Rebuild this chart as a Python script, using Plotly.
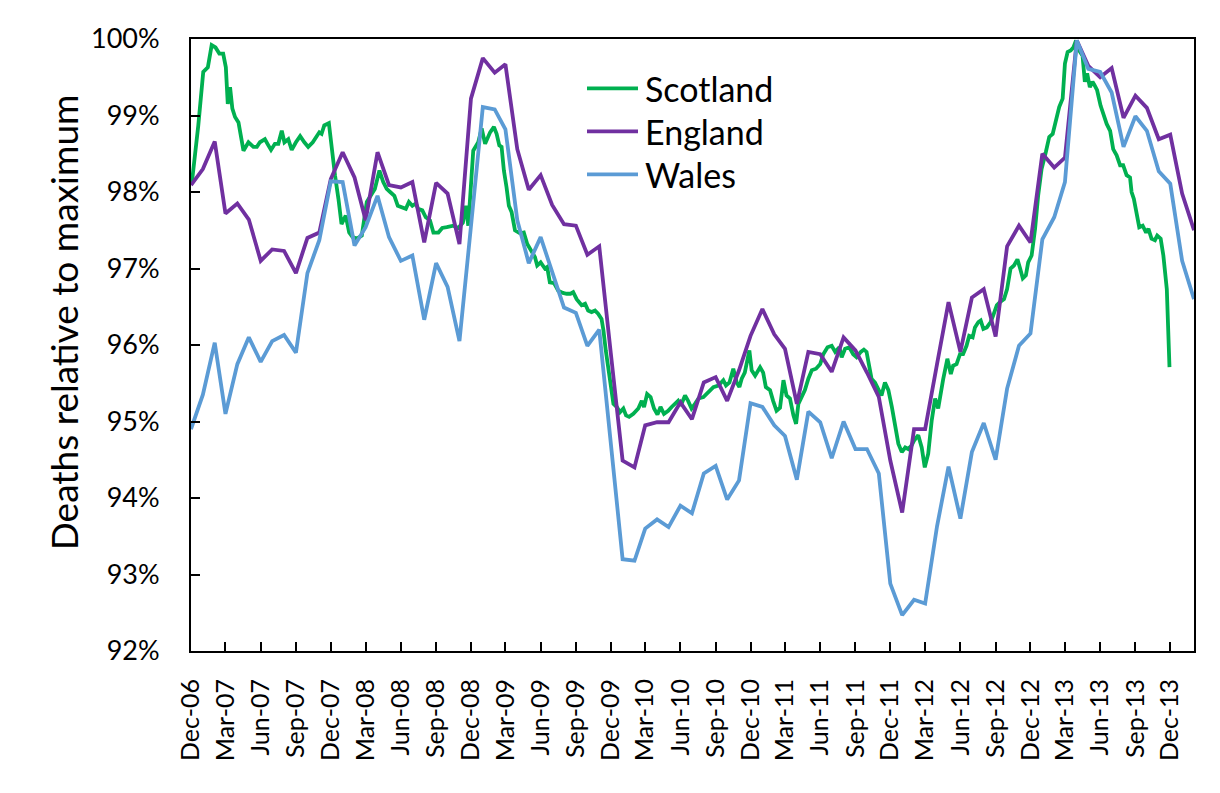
import pandas as pd
import plotly.graph_objects as go

# ---------------- data ----------------
START = "2006-12-01"

england = [98.09, 98.30, 98.66, 97.72, 97.85, 97.64, 97.10, 97.25, 97.23, 96.94,
           97.40, 97.47, 98.17, 98.52, 98.19, 97.63, 98.52, 98.09, 98.06, 98.13,
           97.34, 98.12, 97.98, 97.32, 99.22, 99.75, 99.56, 99.67, 98.56, 98.03,
           98.22, 97.83, 97.58, 97.56, 97.18, 97.29, 95.90, 94.49, 94.40, 94.95,
           94.99, 94.99, 95.25, 95.03, 95.51, 95.58, 95.27, 95.67, 96.12, 96.47,
           96.14, 95.95, 95.23, 95.91, 95.88, 95.65, 96.10, 95.93, 95.64, 95.32,
           94.49, 93.81, 94.90, 94.90, 95.75, 96.56, 95.91, 96.62, 96.73, 96.11,
           97.29, 97.56, 97.34, 98.50, 98.32, 98.45, 99.98, 99.65, 99.50, 99.62,
           98.97, 99.26, 99.10, 98.69, 98.75, 97.98, 97.50]

wales = [94.90, 95.35, 96.03, 95.10, 95.75, 96.10, 95.78, 96.05, 96.13, 95.90,
         96.94, 97.37, 98.14, 98.13, 97.30, 97.54, 97.95, 97.41, 97.10, 97.17,
         96.33, 97.07, 96.76, 96.05, 97.55, 99.11, 99.08, 98.82, 97.63, 97.07,
         97.41, 96.95, 96.49, 96.42, 95.99, 96.20, 94.70, 93.20, 93.18, 93.60,
         93.72, 93.62, 93.90, 93.80, 94.32, 94.42, 93.98, 94.23, 95.24, 95.19,
         94.95, 94.81, 94.24, 95.13, 94.99, 94.52, 95.00, 94.64, 94.64, 94.32,
         92.88, 92.47, 92.67, 92.62, 93.63, 94.41, 93.73, 94.60, 94.98, 94.50,
         95.43, 95.99, 96.15, 97.38, 97.67, 98.13, 99.98, 99.61, 99.57, 99.30,
         98.59, 98.99, 98.80, 98.27, 98.11, 97.10, 96.60]

# Scotland: weekly-ish series, days since 1 Dec 2006
scot_day = [2, 19, 32, 44, 54, 64, 74, 84, 91, 96, 102, 108, 115, 124, 137, 150,
            163, 172, 180, 193, 202, 209, 219, 228, 237, 244, 254, 263, 274, 285,
            296, 306, 318, 328, 335, 341, 348, 360, 367, 376, 385, 393, 404, 413,
            422, 433, 446, 459, 480, 492, 502, 511, 520, 531, 540, 550, 561, 569,
            578, 587, 593, 604, 613, 624, 633, 646, 656, 668, 685, 698, 710, 718,
            724, 737, 750, 759, 768, 781, 791, 798, 805, 811, 817, 824, 830, 837,
            846, 859, 869, 878, 887, 898, 904, 913, 924, 930, 937, 948, 959, 971,
            981, 991, 998, 1007, 1020, 1029, 1037, 1046, 1055, 1063, 1072, 1077,
            1083, 1103, 1112, 1120, 1129, 1136, 1144, 1155, 1168, 1177, 1183, 1191,
            1200, 1209, 1218, 1226, 1235, 1246, 1255, 1264, 1272, 1279, 1290, 1298,
            1307, 1316, 1325, 1338, 1351, 1364, 1377, 1390, 1397, 1406, 1416, 1425,
            1432, 1438, 1446, 1458, 1464, 1473, 1486, 1494, 1501, 1512, 1520, 1529,
            1538, 1547, 1555, 1564, 1573, 1580, 1586, 1595, 1603, 1612, 1621, 1632,
            1643, 1651, 1662, 1673, 1682, 1693, 1699, 1708, 1719, 1729, 1738, 1749,
            1757, 1764, 1771, 1777, 1786, 1795, 1803, 1812, 1821, 1830, 1838, 1847,
            1856, 1865, 1873, 1882, 1888, 1899, 1908, 1916, 1925, 1934, 1943, 1951,
            1964, 1975, 1984, 1990, 1999, 2008, 2016, 2025, 2032, 2041, 2047, 2056,
            2062, 2069, 2078, 2088, 2095, 2104, 2112, 2123, 2131, 2140, 2149, 2158,
            2165, 2172, 2180, 2186, 2195, 2204, 2212, 2221, 2232, 2241, 2250, 2259,
            2267, 2276, 2282, 2289, 2297, 2304, 2311, 2319, 2328, 2334, 2340, 2347,
            2354, 2360, 2366, 2375, 2384, 2391, 2400, 2408, 2417, 2426, 2434, 2443,
            2452, 2456, 2462, 2469, 2476, 2485, 2494, 2500, 2508, 2517, 2523, 2532,
            2539, 2548, 2555]

scotland = [98.11, 98.87, 99.57, 99.63, 99.92, 99.89, 99.81, 99.81, 99.63, 99.15,
            99.37, 99.09, 98.98, 98.91, 98.54, 98.65, 98.59, 98.59, 98.65, 98.69,
            98.61, 98.55, 98.63, 98.63, 98.80, 98.65, 98.69, 98.55, 98.65, 98.73,
            98.65, 98.59, 98.65, 98.72, 98.78, 98.76, 98.87, 98.90, 98.56, 98.22,
            97.91, 97.58, 97.69, 97.47, 97.41, 97.39, 97.43, 97.87, 98.04, 98.28,
            98.13, 98.04, 98.00, 97.95, 97.82, 97.80, 97.78, 97.87, 97.82, 97.85,
            97.78, 97.76, 97.67, 97.63, 97.47, 97.47, 97.53, 97.54, 97.56, 97.53,
            97.60, 97.82, 97.56, 98.54, 98.65, 98.83, 98.63, 98.78, 98.85, 98.76,
            98.61, 98.59, 98.28, 98.06, 97.82, 97.74, 97.50, 97.46, 97.47, 97.32,
            97.24, 97.15, 97.04, 97.08, 97.00, 97.02, 96.82, 96.81, 96.71, 96.68,
            96.67, 96.67, 96.69, 96.60, 96.52, 96.54, 96.45, 96.43, 96.45, 96.41,
            96.34, 96.19, 95.93, 95.23, 95.19, 95.12, 95.17, 95.08, 95.06, 95.10,
            95.17, 95.27, 95.19, 95.36, 95.32, 95.17, 95.09, 95.19, 95.10, 95.14,
            95.19, 95.23, 95.27, 95.21, 95.34, 95.27, 95.17, 95.23, 95.30, 95.32,
            95.38, 95.45, 95.47, 95.54, 95.47, 95.51, 95.69, 95.51, 95.45, 95.56,
            95.64, 95.93, 95.67, 95.60, 95.71, 95.64, 95.45, 95.41, 95.27, 95.14,
            95.18, 95.54, 95.34, 95.30, 95.08, 94.97, 95.23, 95.34, 95.41, 95.56,
            95.67, 95.69, 95.75, 95.88, 95.97, 95.99, 95.91, 95.97, 95.84, 95.95,
            95.97, 95.88, 95.84, 95.91, 95.94, 95.91, 95.75, 95.56, 95.51, 95.41,
            95.34, 95.51, 95.41, 95.19, 94.93, 94.71, 94.60, 94.66, 94.64, 94.69,
            94.75, 94.82, 94.66, 94.40, 94.58, 95.01, 95.30, 95.17, 95.55, 95.82,
            95.62, 95.73, 95.75, 95.88, 95.88, 95.99, 96.12, 96.10, 96.23, 96.30,
            96.32, 96.21, 96.23, 96.30, 96.39, 96.52, 96.56, 96.60, 96.73, 97.00,
            97.04, 97.12, 97.00, 96.87, 96.91, 97.08, 97.17, 97.52, 97.95, 98.30,
            98.52, 98.72, 98.76, 98.96, 99.11, 99.22, 99.68, 99.83, 99.85, 99.89,
            99.98, 99.85, 99.78, 99.44, 99.55, 99.37, 99.44, 99.39, 99.33, 99.13,
            99.00, 98.89, 98.80, 98.56, 98.48, 98.35, 98.35, 98.22, 98.19, 98.00,
            97.91, 97.69, 97.54, 97.56, 97.47, 97.52, 97.39, 97.37, 97.43, 97.39,
            97.17, 96.73, 95.71]

series_names = ["Scotland", "England", "Wales"]

tick_labels = ["Dec-06", "Mar-07", "Jun-07", "Sep-07", "Dec-07", "Mar-08", "Jun-08",
               "Sep-08", "Dec-08", "Mar-09", "Jun-09", "Sep-09", "Dec-09", "Mar-10",
               "Jun-10", "Sep-10", "Dec-10", "Mar-11", "Jun-11", "Sep-11", "Dec-11",
               "Mar-12", "Jun-12", "Sep-12", "Dec-12", "Mar-13", "Jun-13", "Sep-13",
               "Dec-13"]

y_title = "Deaths relative to maximum"

# ---------------- build ----------------
month_dates = pd.date_range(START, periods=len(england), freq="MS")
scot_dates = pd.Timestamp(START) + pd.to_timedelta(scot_day, unit="D")
tick_dates = pd.date_range(START, periods=len(tick_labels), freq="3MS")

COLORS = ["#00B050", "#7030A0", "#5B9BD5"]
FONT = "Lato"
LW = 3.8

fig = go.Figure()
for name, xs, ys, col in zip(series_names,
                             [scot_dates, month_dates, month_dates],
                             [scotland, england, wales], COLORS):
    fig.add_trace(go.Scatter(x=xs, y=[v / 100 for v in ys], mode="lines",
                             name=name, line=dict(color=col, width=LW),
                             showlegend=False))

# target plot box in picture pixels (page adds an 8px body margin)
PL, PR, PT, PB = 191, 1194, 38.5, 651
OFF = 8

def px_to_paper(xp, yp):
    return (xp - PL) / (PR - PL), (PB - yp) / (PB - PT)

# legend: line samples + labels
leg_y = [88, 131, 174]
for name, col, yp in zip(series_names, COLORS, leg_y):
    x0, y0 = px_to_paper(587, yp)
    x1, _ = px_to_paper(638, yp)
    fig.add_shape(type="line", xref="paper", yref="paper", x0=x0, x1=x1, y0=y0, y1=y0,
                  line=dict(color=col, width=LW))
    xt, _ = px_to_paper(643, yp)
    fig.add_annotation(x=xt, y=y0, xref="paper", yref="paper", text=name,
                       showarrow=False, xanchor="left", yanchor="middle",
                       font=dict(family=FONT, size=34, color="black"))

# y-axis title
tx, ty = px_to_paper(63, 322)
fig.add_annotation(x=tx, y=ty, xref="paper", yref="paper", text=y_title,
                   textangle=-90, showarrow=False, xanchor="center", yanchor="middle",
                   font=dict(family=FONT, size=37, color="black"))

W, H = 1220 - OFF, 793 - OFF
fig.update_layout(
    width=W, height=H,
    margin=dict(l=PL - OFF, r=W - (PR - OFF), t=PT - OFF, b=H - (PB - OFF),
                autoexpand=False),
    paper_bgcolor="white", plot_bgcolor="white",
    font=dict(family=FONT, color="black"),
    showlegend=False,
)
fig.update_xaxes(
    type="date", range=[START, "2014-02-01"], automargin=False,
    tickvals=tick_dates, ticktext=tick_labels, tickangle=-90,
    ticks="inside", ticklen=9, tickwidth=1.5, tickcolor="black",
    showline=True, linecolor="black", linewidth=2, mirror=True,
    showgrid=False, zeroline=False,
    tickfont=dict(family=FONT, size=25, color="black"),
    ticklabelstandoff=16,
)
fig.update_yaxes(
    range=[0.92, 1.0], dtick=0.01, tickformat=".0%", automargin=False,
    ticks="inside", ticklen=9, tickwidth=1.5, tickcolor="black",
    showline=True, linecolor="black", linewidth=2, mirror=True,
    showgrid=False, zeroline=False,
    tickfont=dict(family=FONT, size=27, color="black"),
    ticklabelstandoff=24,
)

fig.write_html("out.html")
